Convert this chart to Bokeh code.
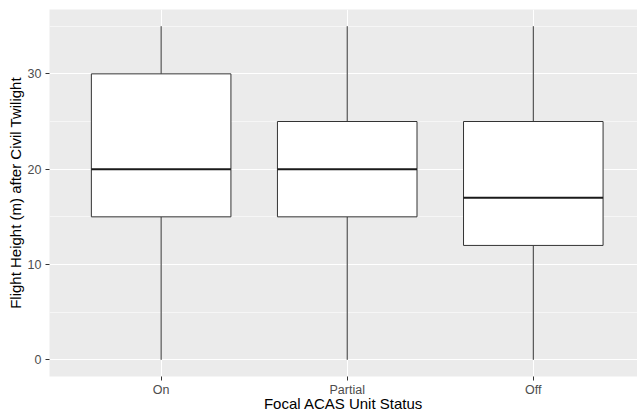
from bokeh.plotting import figure
from bokeh.models import ColumnDataSource, FixedTicker, Range1d
from bokeh.embed import file_html
from bokeh.resources import INLINE

categories = ["On", "Partial", "Off"]
ymin = [0, 0, 0]
q1 = [15, 15, 12]
median = [20, 20, 17]
q3 = [30, 25, 25]
ymax = [35, 35, 35]

y_ticks = [0, 10, 20, 30]
y_minor = [5, 15, 25, 35]

xpos = [i + 1 for i in range(len(categories))]
half = 0.375

src = ColumnDataSource(dict(
    x=xpos,
    left=[v - half for v in xpos],
    right=[v + half for v in xpos],
    ymin=ymin, q1=q1, median=median, q3=q3, ymax=ymax,
))

p = figure(width=637, height=415, output_backend="svg", toolbar_location=None,
           x_range=Range1d(0.4, 3.56), y_range=Range1d(-1.75, 36.75),
           min_border_left=49, min_border_right=0, min_border_top=9, min_border_bottom=39)

p.background_fill_color = "#EBEBEB"
p.border_fill_color = "white"
p.outline_line_color = None

# whiskers
p.segment(x0="x", y0="q3", x1="x", y1="ymax", source=src, line_color="#333333", line_width=1)
p.segment(x0="x", y0="ymin", x1="x", y1="q1", source=src, line_color="#333333", line_width=1)
# boxes
p.quad(left="left", right="right", bottom="q1", top="q3", source=src,
       fill_color="white", line_color="#333333", line_width=1)
# medians
p.segment(x0="left", y0="median", x1="right", y1="median", source=src,
          line_color="#1a1a1a", line_width=2)

p.xaxis.ticker = FixedTicker(ticks=xpos)
p.xaxis.major_label_overrides = {v: c for v, c in zip(xpos, categories)}
p.yaxis.ticker = FixedTicker(ticks=y_ticks, minor_ticks=y_minor)

p.xgrid.grid_line_color = "white"
p.xgrid.grid_line_width = 1.1
p.ygrid.grid_line_color = "white"
p.ygrid.grid_line_width = 1.1
p.ygrid.minor_grid_line_color = "white"
p.ygrid.minor_grid_line_width = 0.55

p.xaxis.axis_label = "Focal ACAS Unit Status"
p.yaxis.axis_label = "Flight Height (m) after Civil Twilight"

for ax in (p.xaxis[0], p.yaxis[0]):
    ax.axis_line_color = None
    ax.major_tick_line_color = "#333333"
    ax.major_tick_in = 0
    ax.major_tick_out = 4
    ax.minor_tick_line_color = None
    ax.major_label_text_font = "Liberation Sans"
    ax.major_label_text_font_size = "12.5px"
    ax.major_label_text_color = "#4D4D4D"
    ax.axis_label_text_font = "Liberation Sans"
    ax.axis_label_text_font_size = "15px"
    ax.axis_label_text_font_style = "normal"
    ax.axis_label_text_color = "black"

p.xaxis.major_label_standoff = 2
p.xaxis.axis_label_standoff = -5
p.yaxis.major_label_standoff = 4
p.yaxis.axis_label_standoff = 1

open("out.html", "w").write(file_html(p, INLINE))
